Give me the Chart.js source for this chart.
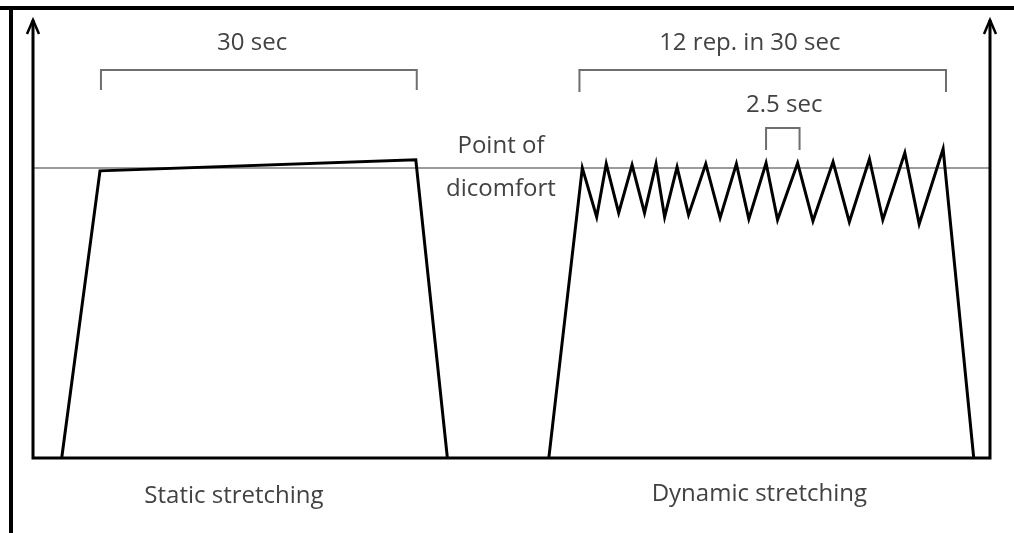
<!DOCTYPE html>
<html>
<head>
<meta charset="utf-8">
<script src="https://cdn.jsdelivr.net/npm/chart.js@4/dist/chart.umd.min.js"></script>
<style>
  html, body { margin: 0; padding: 0; background: #fff; }
  #wrap { width: 1014px; height: 533px; }
</style>
</head>
<body>
<div id="wrap"><canvas id="stretchChart" width="1014" height="533"></canvas></div>
<script>
// stretch intensity over time (arbitrary time units 0-100, intensity 100 = point of discomfort)
const staticX = [3.0, 7.0, 40.0, 43.3];
const staticY = [0, 99.0, 102.8, 0];

const dynamicX = [53.9, 57.4, 58.9, 59.9, 61.2, 62.6, 63.9, 65.1, 66.0, 67.3, 68.5, 70.3, 71.8,
  73.5, 74.8, 76.6, 77.8, 79.9, 81.5, 83.6, 85.3, 87.4, 88.8, 91.1, 92.6, 95.1, 98.3];
const dynamicY = [0, 100, 83.1, 101.4, 84.5, 101.0, 84.5, 101.4, 83.1, 100.3, 83.8, 101.4, 82.8,
  101.4, 82.4, 101.7, 82.1, 101.7, 81.7, 102.1, 81.4, 103.1, 82.1, 105.2, 80.7, 106.6, 0];

const discomfortLevel = 100;
const axisMaxX = 100;
const axisMaxY = 151;

// time spans marked with brackets
const bracketStart = [7.1, 57.1, 76.6];
const bracketEnd = [40.1, 95.4, 80.1];
const bracketLevel = [133.8, 133.8, 113.8];
const bracketTick = [126.9, 126.2, 106.2];

// annotation texts, anchored at their baseline centre
const labelTexts = ["30 sec", "12 rep. in 30 sec", "2.5 sec", "Point of", "dicomfort",
  "Static stretching", "Dynamic stretching"];
const labelX = [22.9, 74.9, 78.5, 48.9, 48.9, 21.0, 75.9];
const labelY = [140.7, 140.7, 119.3, 105.2, 90.3, -15.5, -14.7];

function toPoints(xs, ys) {
  return xs.map((x, i) => ({ x: x, y: ys[i] }));
}

const datasets = [
  {
    label: "Static stretching",
    data: toPoints(staticX, staticY),
    borderColor: "#000",
    borderWidth: 3,
  },
  {
    label: "Dynamic stretching",
    data: toPoints(dynamicX, dynamicY),
    borderColor: "#000",
    borderWidth: 3,
  },
  {
    label: "Point of dicomfort",
    data: [{ x: 0, y: discomfortLevel }, { x: axisMaxX, y: discomfortLevel }],
    borderColor: "#7a7a7a",
    borderWidth: 1.5,
  },
];
bracketStart.forEach((s, i) => {
  datasets.push({
    label: "bracket " + i,
    data: [
      { x: s, y: bracketTick[i] },
      { x: s, y: bracketLevel[i] },
      { x: bracketEnd[i], y: bracketLevel[i] },
      { x: bracketEnd[i], y: bracketTick[i] },
    ],
    borderColor: "#6e6e6e",
    borderWidth: 2,
  });
});

function arrowUp(ctx, x, y) {
  ctx.beginPath();
  ctx.moveTo(x - 6, y + 14);
  ctx.lineTo(x, y);
  ctx.lineTo(x + 6, y + 14);
  ctx.stroke();
}

const decorPlugin = {
  id: "decor",
  afterDatasetsDraw(chart) {
    const ctx = chart.ctx;
    const xs = chart.scales.x;
    const ys = chart.scales.y;
    const x0 = xs.getPixelForValue(0);
    const x1 = xs.getPixelForValue(axisMaxX);
    const y0 = ys.getPixelForValue(0);
    const yTop = ys.getPixelForValue(axisMaxY);
    ctx.save();
    // outer frame (top and left only)
    ctx.fillStyle = "#000";
    ctx.fillRect(0, 6, 1014, 4);
    ctx.fillRect(9, 6, 4, 533);
    // axes
    ctx.strokeStyle = "#000";
    ctx.lineWidth = 3;
    ctx.beginPath();
    ctx.moveTo(x0, yTop);
    ctx.lineTo(x0, y0);
    ctx.lineTo(x1, y0);
    ctx.lineTo(x1, yTop);
    ctx.stroke();
    ctx.lineWidth = 2.5;
    arrowUp(ctx, x0, yTop);
    arrowUp(ctx, x1, yTop);
    // labels
    ctx.fillStyle = "#424242";
    ctx.font = "24px 'Open Sans'";
    ctx.textAlign = "center";
    ctx.textBaseline = "alphabetic";
    labelTexts.forEach((t, i) => {
      ctx.fillText(t, xs.getPixelForValue(labelX[i]), ys.getPixelForValue(labelY[i]));
    });
    ctx.restore();
  },
};

new Chart(document.getElementById("stretchChart"), {
  type: "line",
  data: { datasets: datasets },
  options: {
    responsive: false,
    animation: false,
    events: [],
    layout: { padding: { left: 33, right: 24, top: 20, bottom: 75 } },
    elements: { point: { radius: 0 }, line: { tension: 0, fill: false } },
    plugins: { legend: { display: false }, tooltip: { enabled: false } },
    scales: {
      x: { type: "linear", min: 0, max: axisMaxX, display: false },
      y: { type: "linear", min: 0, max: axisMaxY, display: false },
    },
  },
  plugins: [decorPlugin],
});
</script>
</body>
</html>
